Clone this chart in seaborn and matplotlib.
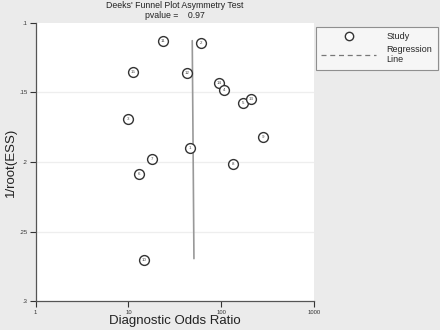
import matplotlib
matplotlib.use("Agg")
import matplotlib.pyplot as plt
from matplotlib.lines import Line2D
import seaborn as sns
import pandas as pd

# Data
study = [11, 2, 15, 12, 14, 4, 5, 13, 9, 8, 3, 1, 7, 6, 10]
dor = [23.4, 60.9, 11.3, 42.4, 95.1, 107.7, 170, 207.5, 283.6, 132.7, 9.8, 46.3, 17.9, 13.1, 14.8]
inv_root_ess = [0.1129, 0.1149, 0.1352, 0.1363, 0.1431, 0.1483, 0.1579, 0.1546,
                0.1823, 0.2015, 0.1692, 0.1902, 0.1981, 0.2087, 0.2700]
reg_x = [48.7, 50.8]
reg_y = [0.1129, 0.2693]
x_ticks = [1, 10, 100, 1000]
x_tick_labels = ["1", "10", "100", "1000"]
y_ticks = [0.1, 0.15, 0.2, 0.25, 0.3]
y_tick_labels = [".1", ".15", ".2", ".25", ".3"]

df = pd.DataFrame({"study": study, "dor": dor, "y": inv_root_ess})

sns.set_style("white")
plt.rcParams["font.family"] = ["Liberation Sans", "DejaVu Sans"]

bg = "#ebebeb"
fig = plt.figure(figsize=(4.4, 3.3), dpi=100, facecolor=bg)
ax = fig.add_axes([35.7 / 440, 1 - 301.4 / 330, (314 - 35.7) / 440, (301.4 - 22.7) / 330])
ax.set_facecolor("white")

ax.set_xscale("log")
ax.set_xlim(1, 1000)
ax.set_ylim(0.3, 0.1)

for yy in [0.15, 0.2, 0.25]:
    ax.axhline(yy, color="#eeeeee", lw=0.9, zorder=0)

ax.plot(reg_x, reg_y, color="#999999", lw=1.2, zorder=1)

sns.scatterplot(data=df, x="dor", y="y", ax=ax, marker="o", s=50,
                facecolor="white", edgecolor="#333333", linewidth=1.0, zorder=3,
                legend=False)
for s, xv, yv in zip(study, dor, inv_root_ess):
    ax.text(xv, yv, str(s), ha="center", va="center", fontsize=3.2,
            color="#444444", zorder=4)

ax.set_xticks(x_ticks)
ax.set_xticklabels(x_tick_labels)
ax.set_yticks(y_ticks)
ax.set_yticklabels(y_tick_labels)
ax.minorticks_off()
ax.tick_params(axis="both", labelsize=4.2, colors="#333333", length=4, width=0.8,
               direction="out", pad=2, left=True, bottom=True)

for side in ["top", "right"]:
    ax.spines[side].set_visible(False)
for side in ["left", "bottom"]:
    ax.spines[side].set_color("#555555")
    ax.spines[side].set_linewidth(0.9)

ax.set_xlabel("Diagnostic Odds Ratio", fontsize=9.5, color="#222222")
ax.xaxis.set_label_coords(0.5, -0.048)
ax.set_ylabel("1/root(ESS)", fontsize=9.5, color="#222222")
ax.yaxis.set_label_coords(-0.068, 0.5)

fig.text(175 / 440, 1 - 6 / 330, "Deeks' Funnel Plot Asymmetry Test", ha="center",
         va="center", fontsize=6.3, color="#222222")
fig.text(175 / 440, 1 - 16 / 330, "pvalue =    0.97", ha="center",
         va="center", fontsize=6.3, color="#222222")

handles = [
    Line2D([], [], marker="o", linestyle="none", markerfacecolor="white",
           markeredgecolor="#333333", markersize=6, markeredgewidth=1.0),
    Line2D([], [], linestyle=(0, (4, 3)), color="#777777", lw=0.9),
]
leg = fig.legend(handles, ["Study", "Regression\nLine"], loc="upper left",
                 bbox_to_anchor=(316 / 440, 1 - 27 / 330), borderaxespad=0,
                 frameon=True, fontsize=6.5, handlelength=6, borderpad=0.6,
                 labelspacing=0.4, handletextpad=1.2, fancybox=False)
leg.get_frame().set_edgecolor("#777777")
leg.get_frame().set_facecolor("#fafafa")
leg.get_frame().set_linewidth(0.8)

fig.savefig("out.png", dpi=100, facecolor=bg)
